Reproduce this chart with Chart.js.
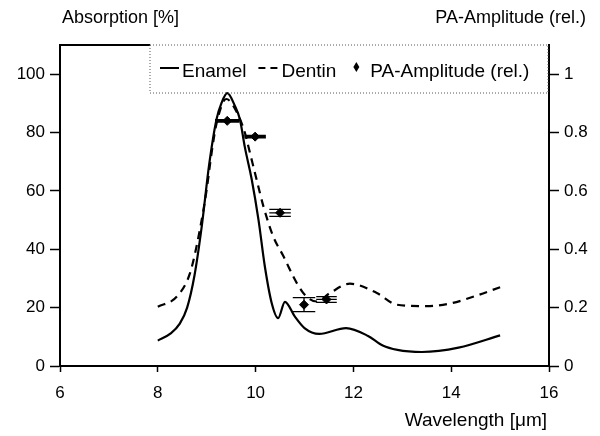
<!DOCTYPE html>
<html lang="en">
<head>
    <meta charset="UTF-8">
    <title>Absorption vs Wavelength</title>
    <style>
        html, body { margin: 0; padding: 0; background: #fff; }
        #chartBox { width: 600px; height: 436px; }
    </style>
</head>
<body>
    <div id="chartBox"><canvas id="absChart" width="600" height="436"></canvas></div>

    <script src="https://cdn.jsdelivr.net/npm/chart.js"></script>
    <script>
        // Enamel absorption (solid line)
        const enamelX = [8.0, 8.25, 8.45, 8.6, 8.75, 8.9, 9.05, 9.2, 9.3, 9.42, 9.58, 9.68, 9.78, 9.92, 10.06, 10.19, 10.33, 10.46, 10.6, 10.8, 11.0, 11.3, 11.85, 12.3, 12.6, 12.9, 13.4, 14.15, 15.0];
        const enamelY = [8.7, 11, 14.5, 20, 31, 48, 69, 84.5, 90, 93.5, 89, 84.5, 75, 64, 50, 34, 21.5, 16.4, 22, 17, 13, 11, 13, 10.3, 7, 5.5, 4.8, 6.3, 10.5];

        // Dentin absorption (dashed line)
        const dentinX = [8.0, 8.39, 8.66, 8.86, 9.0, 9.1, 9.2, 9.4, 9.6, 9.78, 9.85, 10.02, 10.16, 10.36, 10.57, 10.84, 11.04, 11.25, 11.52, 11.93, 12.48, 12.89, 13.5, 14.0, 14.5, 15.0];
        const dentinY = [20.3, 23.8, 31.9, 46.7, 60.5, 73, 83, 91.5, 87.5, 80, 75.4, 63.9, 54.7, 44.4, 37.6, 28.5, 23.8, 22.1, 25, 28.2, 25, 21, 20.5, 21.5, 24, 27];

        // PA amplitude (right axis) with error ranges
        const paX = [9.42, 9.99, 10.5, 10.99, 11.45];
        const paY = [0.84, 0.786, 0.525, 0.21, 0.228];
        const paXErr = [0.25, 0.22, 0.22, 0.23, 0.21];
        const paYErr = [0.004, 0.004, 0.012, 0.024, 0.01];

        const xTicks = [6, 8, 10, 12, 14, 16];
        const leftTicks = [0, 20, 40, 60, 80, 100];
        const rightTicks = [0, 0.2, 0.4, 0.6, 0.8, 1];

        const family = 'Liberation Sans, Arial, sans-serif';
        const tickFont = { family: family, size: 17 };

        const pairs = (xs, ys) => xs.map((x, i) => ({ x: x, y: ys[i] }));

        // titles, frame, legend box and error bars
        const decor = {
            id: 'decor',
            afterDatasetsDraw(chart) {
                const c = chart.ctx;
                const xs = chart.scales.x, ys = chart.scales.y1;
                c.save();
                c.strokeStyle = '#000';
                c.lineWidth = 1.3;
                paX.forEach((x, i) => {
                    const l = xs.getPixelForValue(x - paXErr[i]);
                    const r = xs.getPixelForValue(x + paXErr[i]);
                    const t = ys.getPixelForValue(paY[i] + paYErr[i]);
                    const b = ys.getPixelForValue(paY[i] - paYErr[i]);
                    const m = ys.getPixelForValue(paY[i]);
                    const cx = xs.getPixelForValue(x);
                    c.beginPath();
                    c.moveTo(l, t); c.lineTo(r, t);
                    c.moveTo(l, b); c.lineTo(r, b);
                    c.moveTo(cx, t); c.lineTo(cx, b);
                    if (paYErr[i] < 0.015) { c.moveTo(l, m); c.lineTo(r, m); }
                    c.stroke();
                });
                c.restore();
            },
            afterDraw(chart) {
                const c = chart.ctx;
                const a = chart.chartArea;
                c.save();
                c.fillStyle = '#000';
                c.font = '18px ' + family;
                c.textBaseline = 'middle';
                c.textAlign = 'left';
                c.fillText('Absorption [%]', 62, 18);
                c.textAlign = 'right';
                c.fillText('PA-Amplitude (rel.)', 586, 18);
                c.font = '19px ' + family;
                c.fillText('Wavelength [\u03bcm]', 547, 421);

                // top frame: solid part, then dotted legend box
                const boxL = 150, boxR = a.right - 1, boxT = a.top, boxB = 93;
                c.strokeStyle = '#000';
                c.lineWidth = 2;
                c.beginPath();
                c.moveTo(a.left, a.top); c.lineTo(boxL, a.top);
                c.stroke();
                c.lineWidth = 1;
                c.strokeStyle = '#555';
                c.setLineDash([1, 2]);
                c.strokeRect(boxL, boxT, boxR - boxL, boxB - boxT);
                c.setLineDash([]);

                // legend items
                const ly = 72;
                const ds = chart.data.datasets;
                c.font = '19px ' + family;
                c.textAlign = 'left';
                c.strokeStyle = '#000';
                c.lineWidth = 2;
                let x = 160;
                c.beginPath(); c.moveTo(x, ly - 4); c.lineTo(x + 19, ly - 4); c.stroke();
                x += 22;
                c.fillText(ds[0].label, x, ly);
                x += c.measureText(ds[0].label).width + 12;
                c.setLineDash([7, 5]);
                c.beginPath(); c.moveTo(x, ly - 4); c.lineTo(x + 19, ly - 4); c.stroke();
                c.setLineDash([]);
                x += 23;
                c.fillText(ds[1].label, x, ly);
                x += c.measureText(ds[1].label).width + 20;
                c.beginPath();
                c.moveTo(x, ly - 10); c.lineTo(x + 3, ly - 5); c.lineTo(x, ly); c.lineTo(x - 3, ly - 5);
                c.closePath(); c.fill();
                x += 14;
                c.fillText(ds[2].label, x, ly);
                c.restore();
            }
        };

        const axisBase = {
            border: { color: '#000', width: 2 },
            grid: { drawOnChartArea: false, drawTicks: true, tickLength: 10, tickColor: '#000', tickWidth: 1.5 },
            ticks: { color: '#000', font: tickFont, padding: 5 }
        };

        new Chart(document.getElementById('absChart'), {
            type: 'line',
            data: {
                datasets: [{
                    label: 'Enamel',
                    data: pairs(enamelX, enamelY),
                    yAxisID: 'y',
                    borderColor: '#000',
                    borderWidth: 2.2,
                    pointRadius: 0,
                    cubicInterpolationMode: 'monotone',
                    fill: false
                }, {
                    label: 'Dentin',
                    data: pairs(dentinX, dentinY),
                    yAxisID: 'y',
                    borderColor: '#000',
                    borderWidth: 2.2,
                    borderDash: [8, 6],
                    pointRadius: 0,
                    cubicInterpolationMode: 'monotone',
                    fill: false
                }, {
                    label: 'PA-Amplitude (rel.)',
                    data: pairs(paX, paY),
                    yAxisID: 'y1',
                    showLine: false,
                    pointStyle: 'rectRot',
                    pointRadius: 4.5,
                    backgroundColor: '#000',
                    borderColor: '#000'
                }]
            },
            options: {
                responsive: false,
                animation: false,
                layout: { padding: { top: 45, left: 0, right: 0, bottom: 0 } },
                plugins: { legend: { display: false }, tooltip: { enabled: false } },
                scales: {
                    x: Object.assign({}, axisBase, {
                        type: 'linear',
                        min: 6, max: 16,
                        grid: Object.assign({}, axisBase.grid, { tickLength: 6 }),
                        ticks: Object.assign({}, axisBase.ticks, { padding: 11, maxRotation: 0 }),
                        afterBuildTicks: s => { s.ticks = xTicks.map(v => ({ value: v })); },
                        afterFit: s => { s.height = 70; }
                    }),
                    y: Object.assign({}, axisBase, {
                        position: 'left',
                        min: 0, max: 110,
                        afterBuildTicks: s => { s.ticks = leftTicks.map(v => ({ value: v })); },
                        afterFit: s => { s.width = 60; }
                    }),
                    y1: Object.assign({}, axisBase, {
                        position: 'right',
                        min: 0, max: 1.1,
                        ticks: Object.assign({}, axisBase.ticks, { callback: v => String(v) }),
                        afterBuildTicks: s => { s.ticks = rightTicks.map(v => ({ value: v })); },
                        afterFit: s => { s.width = 51; }
                    })
                }
            },
            plugins: [decor]
        });
    </script>
</body>
</html>
